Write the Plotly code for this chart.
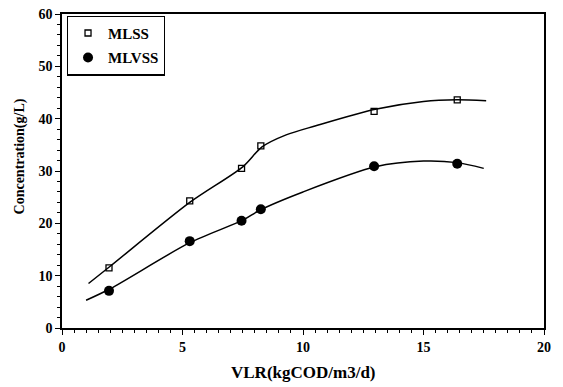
import plotly.graph_objects as go

# measured points
vlr = [1.95, 5.3, 7.45, 8.25, 12.95, 16.4]
mlss = [11.5, 24.3, 30.5, 34.8, 41.4, 43.6]
mlvss = [7.1, 16.6, 20.5, 22.7, 30.9, 31.4]

# fitted curves
mlss_fit_x = [1.1, 2.0, 5.3, 7.5, 8.3, 9.3, 10.5, 13.0, 15.0, 16.4, 17.6]
mlss_fit_y = [8.5, 11.8, 24.0, 30.8, 34.6, 36.9, 38.6, 41.8, 43.3, 43.6, 43.4]
mlvss_fit_x = [1.0, 2.0, 5.3, 7.5, 8.2, 10.0, 13.0, 15.0, 16.4, 17.5]
mlvss_fit_y = [5.3, 7.5, 16.3, 20.6, 22.5, 26.0, 30.8, 31.9, 31.6, 30.5]

x_title = "VLR(kgCOD/m3/d)"
y_title = "Concentration(g/L)"

font_family = "Liberation Serif"

fig = go.Figure()
fig.add_trace(go.Scatter(x=mlss_fit_x, y=mlss_fit_y, mode="lines", line=dict(color="black", width=1.5, shape="spline", smoothing=0.8), showlegend=False, hoverinfo="skip"))
fig.add_trace(go.Scatter(x=mlvss_fit_x, y=mlvss_fit_y, mode="lines", line=dict(color="black", width=1.5, shape="spline", smoothing=0.8), showlegend=False, hoverinfo="skip"))
fig.add_trace(go.Scatter(x=vlr, y=mlss, mode="markers", name="MLSS", legendgroup="a",
                         marker=dict(symbol="square-open", size=6, color="black", line=dict(width=1.3))))
fig.add_trace(go.Scatter(x=vlr, y=mlvss, mode="markers", name="MLVSS", legendgroup="b",
                         marker=dict(symbol="circle", size=10, color="black")))

axis_common = dict(showline=True, linecolor="black", linewidth=1.5, mirror=True,
                   ticks="outside", tickcolor="black", ticklen=5, tickwidth=1.2,
                   showgrid=False, zeroline=False, automargin=False,
                   tickfont=dict(family=font_family, size=14, color="black", weight="bold"))

fig.update_xaxes(range=[0, 20], dtick=5,
                 minor=dict(dtick=0.5, ticks="outside", ticklen=3, tickcolor="black", tickwidth=1),
                 **axis_common)
fig.update_yaxes(range=[0, 60], dtick=10,
                 minor=dict(dtick=2, ticks="outside", ticklen=3, tickcolor="black", tickwidth=1),
                 **axis_common)

fig.add_annotation(text=x_title, xref="paper", yref="paper", x=0.5, y=-0.143,
                   xanchor="center", yanchor="middle", showarrow=False,
                   font=dict(family=font_family, size=17, color="black", weight="bold"))
fig.add_annotation(text=y_title, xref="paper", yref="paper", x=-0.088, y=0.545,
                   xanchor="center", yanchor="middle", showarrow=False, textangle=-90,
                   font=dict(family=font_family, size=14, color="black", weight="bold"))

fig.update_layout(
    width=563, height=387,
    margin=dict(l=62, r=19, t=14, b=59),
    paper_bgcolor="white", plot_bgcolor="white",
    legend=dict(x=0.01, y=0.995, xanchor="left", yanchor="top",
                bordercolor="black", borderwidth=1.2, bgcolor="white",
                font=dict(family=font_family, size=15, color="black", weight="bold"),
                itemwidth=30, tracegroupgap=2),
)

fig.write_html("out.html", config={"displayModeBar": False},
               post_script="document.body.style.margin='0';document.body.style.overflow='hidden';")
